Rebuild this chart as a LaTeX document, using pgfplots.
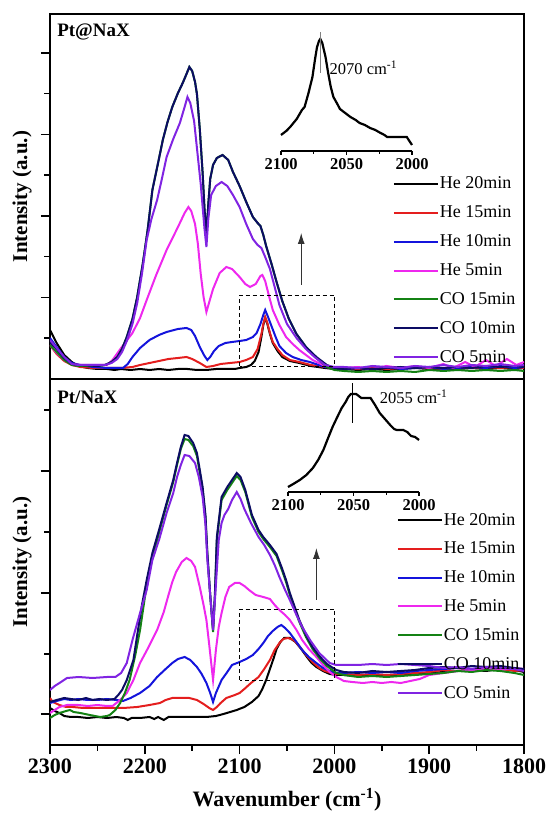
\documentclass[border=0pt]{standalone}
\usepackage{fontspec}
\setmainfont{Liberation Serif}
\usepackage{pgfplots}
\pgfplotsset{compat=1.18}
\usetikzlibrary{arrows.meta}
\newcommand\fs[1]{\fontsize{#1}{#1}\selectfont}
\definecolor{cA}{RGB}{0,0,0}
\definecolor{cB}{RGB}{228,30,30}
\definecolor{cC}{RGB}{20,20,220}
\definecolor{cD}{RGB}{238,40,238}
\definecolor{cE}{RGB}{20,130,20}
\definecolor{cF}{RGB}{12,12,100}
\definecolor{cG}{RGB}{128,36,226}
\pgfplotsset{
  mainax/.style={scale only axis, width=474pt, x dir=reverse, xmin=1800, xmax=2300, ymin=0,
    axis line style={line width=1.5pt},
    tick align=outside, major tick length=9pt, minor tick length=5.5pt,
    major tick style={line width=1.5pt, black}, minor tick style={line width=1.5pt, black},
    xtick pos=bottom, ytick pos=left, yticklabels={},
    ylabel={Intensity (a.u.)},
    ylabel style={font=\fs{21}\bfseries, at={(axis description cs:-0.059,0.5)}, anchor=center},
    legend cell align=left,
    legend image code/.code={\draw[##1, line width=2pt] (0pt,0pt) -- (44pt,0pt);},
    every axis plot/.append style={line width=2pt},
  },
  insetax/.style={scale only axis, width=131pt, x dir=reverse, xmin=2000, xmax=2100, ymin=0,
    axis x line=bottom, axis y line=none, axis line style={-, line width=1.5pt},
    xtick={2000,2050,2100}, xticklabels={2000,2050,2100}, minor xtick={2025,2075},
    tick align=outside, major tick length=4pt, minor tick length=3pt,
    major tick style={line width=1.2pt, black}, minor tick style={line width=1.2pt, black},
    xticklabel style={font=\fs{16.5}\bfseries}, clip=false,
  },
}
\begin{document}
\begin{tikzpicture}
% ---------------- bottom panel: Pt/NaX ----------------
\begin{axis}[mainax, at={(0pt,0pt)}, anchor=south west, height=366pt, ymax=366,
  xtick={1800,1900,2000,2100,2200,2300}, xticklabels={1800,1900,2000,2100,2200,2300},
  minor xtick={1850,1950,2050,2150,2250},
  xticklabel style={font=\fs{22}\bfseries, yshift=-1.5pt},
  xlabel={Wavenumber (cm\textsuperscript{-1})},
  xlabel style={font=\fs{22}\bfseries, at={(axis description cs:0.5,-0.150)}, anchor=center},
  ytick={31,152,274}, minor ytick={91,213,335},
  legend style={draw=none, fill=none, at={(0.732,0.639)}, anchor=north west, inner sep=0pt, outer sep=0pt,
    row sep=11.4pt, font=\fs{18}, nodes={inner xsep=1pt}},
]
\addplot[cA] coordinates {(2300,37)(2295,34)(2290,32)(2285,29)(2278,28)(2270,28)(2260,27)(2250,28)(2240,27)(2230,28)(2222,27)(2218,25)(2214,27)(2205,27)(2195,28)(2190,26)(2186,28)(2180,25)(2175,28)(2165,28)(2155,28)(2145,28)(2135,28)(2125,29)(2117,31)(2110,33)(2103,35)(2095,38)(2087,43)(2080,49)(2076,56)(2072,65)(2068,76)(2064,87)(2061,96)(2057,103)(2053,107)(2047,107)(2041,103)(2035,96)(2029,88)(2024,82)(2019,78)(2012,74)(2005,71)(1998,70)(1990,70)(1975,69)(1960,70)(1945,69)(1930,70)(1915,71)(1900,72)(1885,73)(1870,74)(1855,75)(1840,74)(1825,76)(1810,75)(1800,73)};
\addlegendentry{He 20min}
\addplot[cB] coordinates {(2300,47)(2297,43)(2290,40)(2283,38)(2276,38)(2265,37)(2250,37)(2235,37)(2223,37)(2208,38)(2195,40)(2184,42)(2178,45)(2171,47)(2160,47)(2153,47)(2145,45)(2138,41)(2132,37)(2128,35)(2124,38)(2120,42)(2114,47)(2105,50)(2100,52)(2095,56)(2088,62)(2080,68)(2074,76)(2068,85)(2063,95)(2058,102)(2054,106)(2049,107)(2043,105)(2038,100)(2033,94)(2028,88)(2022,82)(2016,77)(2010,74)(2003,72)(1998,71)(1990,71)(1975,70)(1960,71)(1945,70)(1930,71)(1915,72)(1900,73)(1885,75)(1870,74)(1855,76)(1840,75)(1825,76)(1810,74)(1800,75)};
\addlegendentry{He 15min}
\addplot[cC] coordinates {(2300,42)(2293,44)(2285,46)(2278,45)(2270,46)(2260,45)(2250,45)(2240,46)(2230,45)(2223,44)(2215,47)(2205,52)(2195,59)(2187,68)(2178,76)(2171,82)(2165,86)(2158,88)(2152,85)(2145,78)(2140,71)(2135,62)(2131,52)(2128,43)(2125,52)(2119,65)(2113,73)(2108,80)(2100,83)(2093,86)(2086,90)(2080,96)(2075,102)(2070,109)(2065,114)(2060,118)(2056,120)(2052,117)(2047,112)(2040,103)(2034,95)(2027,88)(2019,82)(2012,77)(2005,74)(1998,72)(1990,72)(1975,73)(1960,72)(1945,73)(1930,72)(1915,74)(1900,75)(1885,76)(1870,77)(1855,76)(1840,78)(1825,77)(1810,76)(1800,75)};
\addlegendentry{He 10min}
\addplot[cD] coordinates {(2300,32)(2295,35)(2290,38)(2282,40)(2270,40)(2260,39)(2250,40)(2240,39)(2234,39)(2226,45)(2219,52)(2212,65)(2205,82)(2196,98)(2187,115)(2180,133)(2175,150)(2171,163)(2167,173)(2161,183)(2156,187)(2151,184)(2147,178)(2142,158)(2138,140)(2135,125)(2132,100)(2128,65)(2125,95)(2122,118)(2119,132)(2115,148)(2111,158)(2105,162)(2100,162)(2095,159)(2090,155)(2083,150)(2075,148)(2068,146)(2063,140)(2058,135)(2052,130)(2047,125)(2040,115)(2034,105)(2027,96)(2019,88)(2012,80)(2005,73)(1998,68)(1990,64)(1981,63)(1970,62)(1960,63)(1950,62)(1940,63)(1930,62)(1920,64)(1910,66)(1900,70)(1885,72)(1870,74)(1855,75)(1840,76)(1825,75)(1810,77)(1800,76)};
\addlegendentry{He 5min}
\addplot[cE] coordinates {(2300,27)(2295,30)(2290,32)(2283,34)(2279,35)(2275,33)(2268,32)(2258,30)(2247,28)(2240,29)(2237,30)(2231,35)(2226,42)(2221,52)(2216,65)(2210,90)(2205,115)(2198,160)(2192,187)(2185,212)(2177,240)(2170,263)(2166,280)(2162,296)(2158,306)(2154,305)(2149,299)(2145,289)(2139,255)(2136,227)(2134,190)(2131,150)(2128,113)(2126,148)(2124,205)(2119,245)(2113,255)(2108,262)(2103,269)(2099,265)(2094,253)(2087,228)(2080,213)(2075,206)(2068,198)(2061,189)(2055,174)(2051,163)(2047,150)(2037,123)(2030,108)(2023,96)(2015,86)(2008,79)(1998,72)(1990,70)(1975,68)(1960,69)(1945,68)(1930,69)(1915,70)(1900,71)(1885,72)(1870,74)(1855,73)(1840,75)(1825,74)(1810,72)(1800,70)};
\addlegendentry{CO 15min}
\addplot[cF] coordinates {(2300,43)(2293,45)(2285,47)(2278,46)(2270,45)(2262,47)(2255,45)(2248,46)(2240,45)(2232,46)(2228,50)(2224,55)(2219,65)(2212,85)(2208,110)(2203,140)(2198,165)(2192,192)(2185,215)(2177,242)(2170,265)(2166,282)(2162,298)(2158,310)(2154,309)(2149,302)(2145,292)(2139,258)(2136,230)(2134,192)(2131,150)(2128,115)(2126,152)(2124,208)(2119,248)(2113,258)(2108,265)(2103,272)(2099,268)(2094,255)(2087,230)(2080,215)(2075,208)(2068,200)(2061,191)(2055,176)(2051,165)(2047,152)(2037,125)(2030,110)(2023,98)(2015,88)(2008,81)(1998,75)(1990,73)(1975,72)(1960,74)(1945,73)(1930,74)(1915,75)(1900,77)(1885,78)(1870,77)(1855,79)(1840,78)(1825,79)(1810,77)(1800,76)};
\addlegendentry{CO 10min}
\addplot[cG] coordinates {(2300,55)(2295,59)(2290,62)(2282,67)(2270,68)(2255,67)(2240,68)(2231,68)(2225,72)(2219,82)(2213,105)(2205,132)(2198,155)(2192,185)(2185,205)(2177,232)(2170,252)(2166,268)(2162,280)(2158,290)(2153,289)(2147,282)(2143,268)(2139,248)(2136,220)(2134,185)(2131,150)(2128,115)(2125,160)(2122,205)(2119,222)(2116,230)(2112,236)(2108,245)(2103,253)(2099,246)(2095,236)(2088,222)(2080,208)(2074,200)(2068,190)(2063,180)(2058,168)(2052,155)(2047,145)(2040,130)(2034,118)(2025,104)(2016,92)(2005,82)(1998,80)(1990,80)(1975,80)(1960,81)(1945,80)(1930,81)(1915,80)(1900,79)(1885,77)(1870,78)(1855,76)(1840,78)(1825,77)(1810,76)(1800,74)};
\addlegendentry{CO 5min}
\addplot[black, line width=0.9pt, dash pattern=on 4pt off 3pt, forget plot] coordinates {(2100,65)(2100,136)(2000,136)(2000,65)(2100,65)};
\addplot[black!80, line width=0.9pt, -{Latex[length=11pt,width=7pt]}, forget plot] coordinates {(2019,145)(2019,197)};
\node[anchor=west, font=\fs{19}\bfseries, inner sep=0pt] at (axis description cs:0.015,0.951) {Pt/NaX};
\end{axis}
% ---------------- top panel: Pt@NaX ----------------
\begin{axis}[mainax, at={(0pt,366pt)}, anchor=south west, height=365pt, ymax=365,
  xtick=\empty,
  ytick={81.5,163,244.5,326}, minor ytick={40.75,122.25,203.75,285.25},
  legend style={draw=none, fill=none, at={(0.7236,0.559)}, anchor=north west, inner sep=0pt, outer sep=0pt,
    row sep=11.5pt, font=\fs{18}, nodes={inner xsep=1pt}},
]
\addplot[cA] coordinates {(2300,49)(2293,36)(2285,24)(2277,17)(2270,13)(2260,11)(2250,10)(2240,10)(2232,9)(2225,10)(2215,9)(2205,10)(2195,9)(2185,10)(2175,9)(2165,10)(2155,10)(2145,9)(2135,9)(2125,10)(2115,10)(2105,10)(2100,11)(2093,12)(2088,14)(2084,18)(2080,27)(2077,42)(2075,54)(2073,61)(2071,56)(2068,45)(2065,36)(2060,28)(2055,22)(2047,18)(2037,16)(2025,13)(2010,11)(2000,10)(1990,10)(1975,9)(1960,10)(1945,9)(1930,10)(1915,11)(1900,10)(1885,9)(1870,10)(1855,11)(1840,10)(1825,11)(1810,10)(1800,11)};
\addlegendentry{He 20min}
\addplot[cB] coordinates {(2300,34)(2293,25)(2285,18)(2277,14)(2268,12)(2255,11)(2240,11)(2225,11)(2213,12)(2205,14)(2195,16)(2185,18)(2175,20)(2165,21)(2156,22)(2150,20)(2142,16)(2135,12)(2128,13)(2120,15)(2110,16)(2100,17)(2093,19)(2086,22)(2081,30)(2077,45)(2075,55)(2073,62)(2071,57)(2068,46)(2065,37)(2060,30)(2055,24)(2047,19)(2037,17)(2025,14)(2010,12)(2000,11)(1990,11)(1975,10)(1960,12)(1945,10)(1930,11)(1915,12)(1900,11)(1885,10)(1870,12)(1855,11)(1840,12)(1825,11)(1810,12)(1800,11)};
\addlegendentry{He 15min}
\addplot[cC] coordinates {(2300,41)(2293,32)(2285,22)(2277,16)(2268,14)(2255,12)(2240,11)(2223,11)(2218,15)(2213,22)(2205,31)(2195,39)(2185,44)(2177,47)(2165,50)(2156,51)(2151,49)(2147,43)(2142,32)(2137,23)(2134,19)(2131,22)(2127,28)(2122,33)(2115,36)(2108,37)(2100,38)(2093,39)(2086,42)(2082,46)(2078,55)(2075,64)(2073,69)(2070,62)(2066,52)(2062,42)(2058,33)(2051,26)(2044,22)(2035,19)(2026,17)(2010,12)(2000,11)(1990,10)(1975,11)(1960,10)(1945,12)(1930,10)(1915,11)(1900,12)(1885,10)(1870,11)(1855,12)(1840,11)(1825,13)(1810,11)(1800,12)};
\addlegendentry{He 10min}
\addplot[cD] coordinates {(2300,34)(2293,26)(2285,19)(2277,15)(2268,14)(2255,14)(2240,14)(2234,19)(2225,31)(2213,46)(2205,61)(2198,79)(2188,104)(2177,129)(2165,152)(2158,166)(2154,172)(2151,168)(2147,155)(2144,135)(2141,105)(2138,82)(2135,67)(2132,77)(2128,90)(2121,106)(2114,112)(2108,110)(2100,102)(2094,95)(2089,92)(2083,95)(2078,103)(2076,104)(2073,98)(2069,83)(2065,69)(2058,54)(2051,42)(2044,35)(2037,29)(2030,24)(2023,19)(2010,13)(2000,11)(1990,11)(1975,12)(1960,10)(1945,13)(1930,11)(1915,13)(1900,11)(1885,15)(1875,11)(1862,17)(1852,12)(1840,19)(1830,13)(1818,20)(1808,14)(1800,17)};
\addlegendentry{He 5min}
\addplot[cE] coordinates {(2300,34)(2293,27)(2285,19)(2277,14)(2270,13)(2250,13)(2242,14)(2235,17)(2229,22)(2224,30)(2219,42)(2213,60)(2208,82)(2202,116)(2197,149)(2192,189)(2186,216)(2181,239)(2176,257)(2171,272)(2165,286)(2160,296)(2156,305)(2153,312)(2150,308)(2147,297)(2145,285)(2142,250)(2139,206)(2137,170)(2135,144)(2133,175)(2131,200)(2128,214)(2124,221)(2118,224)(2112,219)(2107,207)(2100,193)(2093,177)(2086,162)(2081,156)(2078,153)(2075,144)(2072,133)(2066,114)(2061,97)(2055,78)(2048,60)(2040,45)(2030,32)(2019,21)(2008,12)(2000,9)(1990,8)(1975,7)(1960,8)(1945,7)(1930,8)(1915,7)(1900,9)(1885,8)(1870,9)(1855,8)(1840,9)(1825,8)(1810,9)(1800,8)};
\addlegendentry{CO 15min}
\addplot[cF] coordinates {(2300,37)(2293,30)(2285,21)(2277,15)(2270,14)(2250,13)(2242,14)(2235,17)(2229,22)(2224,30)(2219,42)(2213,60)(2208,82)(2202,116)(2197,149)(2192,189)(2186,216)(2181,239)(2176,257)(2171,272)(2165,286)(2160,296)(2156,305)(2153,312)(2150,308)(2147,297)(2145,285)(2142,250)(2139,206)(2137,170)(2135,144)(2133,175)(2131,200)(2128,214)(2124,221)(2118,224)(2112,219)(2107,207)(2100,193)(2093,177)(2086,162)(2081,156)(2078,153)(2075,144)(2072,133)(2066,114)(2061,97)(2055,78)(2048,60)(2040,45)(2030,32)(2019,22)(2008,14)(2000,11)(1990,10)(1975,11)(1960,10)(1945,11)(1930,12)(1915,11)(1900,12)(1885,11)(1870,12)(1855,11)(1840,13)(1825,12)(1810,13)(1800,12)};
\addlegendentry{CO 10min}
\addplot[cG] coordinates {(2300,39)(2293,31)(2285,22)(2277,15)(2270,14)(2250,14)(2242,14)(2235,16)(2229,20)(2224,27)(2219,38)(2213,55)(2208,76)(2203,105)(2198,139)(2193,160)(2187,179)(2182,200)(2177,222)(2170,240)(2163,256)(2158,272)(2155,282)(2152,276)(2148,258)(2144,222)(2141,195)(2139,172)(2137,150)(2135,132)(2133,160)(2130,184)(2125,193)(2119,197)(2113,193)(2107,184)(2100,172)(2093,155)(2086,140)(2081,134)(2077,131)(2073,122)(2068,110)(2063,92)(2058,74)(2050,55)(2040,41)(2030,30)(2021,22)(2010,14)(2000,12)(1990,12)(1975,11)(1960,13)(1945,12)(1930,11)(1915,13)(1900,12)(1885,14)(1870,12)(1855,14)(1840,13)(1825,15)(1810,13)(1800,14)};
\addlegendentry{CO 5min}
\addplot[black, line width=0.9pt, dash pattern=on 4pt off 3pt, forget plot] coordinates {(2100,13)(2100,84)(2000,84)(2000,13)(2100,13)};
\addplot[black!80, line width=0.9pt, -{Latex[length=11pt,width=7pt]}, forget plot] coordinates {(2035,94)(2035,146)};
\node[anchor=west, font=\fs{19}\bfseries, inner sep=0pt] at (axis description cs:0.015,0.951) {Pt@NaX};
\end{axis}
% ---------------- top inset ----------------
\begin{axis}[insetax, at={(231pt,594pt)}, anchor=south west, height=120pt, ymax=120]
\addplot[black, line width=2.2pt] coordinates {(2100,16)(2096,20)(2093,24)(2088,32)(2084,41)(2082,44)(2079,58)(2076,74)(2074,92)(2072.5,104)(2071,110)(2070,112)(2068.5,108)(2066,94)(2064,78)(2062,64)(2060,54)(2057,47)(2055,42)(2051,38)(2047,34)(2043,31)(2040,28)(2036,26)(2032,23)(2028,21)(2024,18)(2021,16)(2019,14)(2011,14)(2004,14)(2002,10)(2000,6)};
\addplot[gray, line width=0.8pt] coordinates {(2070,78)(2070,119)};
\node[anchor=west, font=\fs{16.5}, inner sep=0pt] at (axis cs:2063,83) {2070 cm\textsuperscript{-1}};
\end{axis}
% ---------------- bottom inset ----------------
\begin{axis}[insetax, at={(238pt,253pt)}, anchor=south west, height=110pt, ymax=110]
\addplot[black, line width=2.2pt] coordinates {(2100,5)(2096,8)(2091,12)(2086,17)(2081,24)(2077,32)(2073,42)(2070,52)(2066,65)(2062,76)(2059,84)(2056,90)(2054,95)(2052,98)(2048,98)(2046,96)(2044,94)(2037,94)(2034,88)(2030,79)(2026,73)(2022,67)(2019,63)(2017,62)(2012,62)(2009,60)(2006,56)(2003,55)(2000,52)};
\addplot[black, line width=0.8pt] coordinates {(2051,69)(2051,109)};
\node[anchor=west, font=\fs{16.5}, inner sep=0pt] at (axis cs:2030,95) {2055 cm\textsuperscript{-1}};
\end{axis}
\pgfresetboundingbox
\useasboundingbox (-50pt,-73pt) rectangle (499pt,745pt);
\end{tikzpicture}
\end{document}
